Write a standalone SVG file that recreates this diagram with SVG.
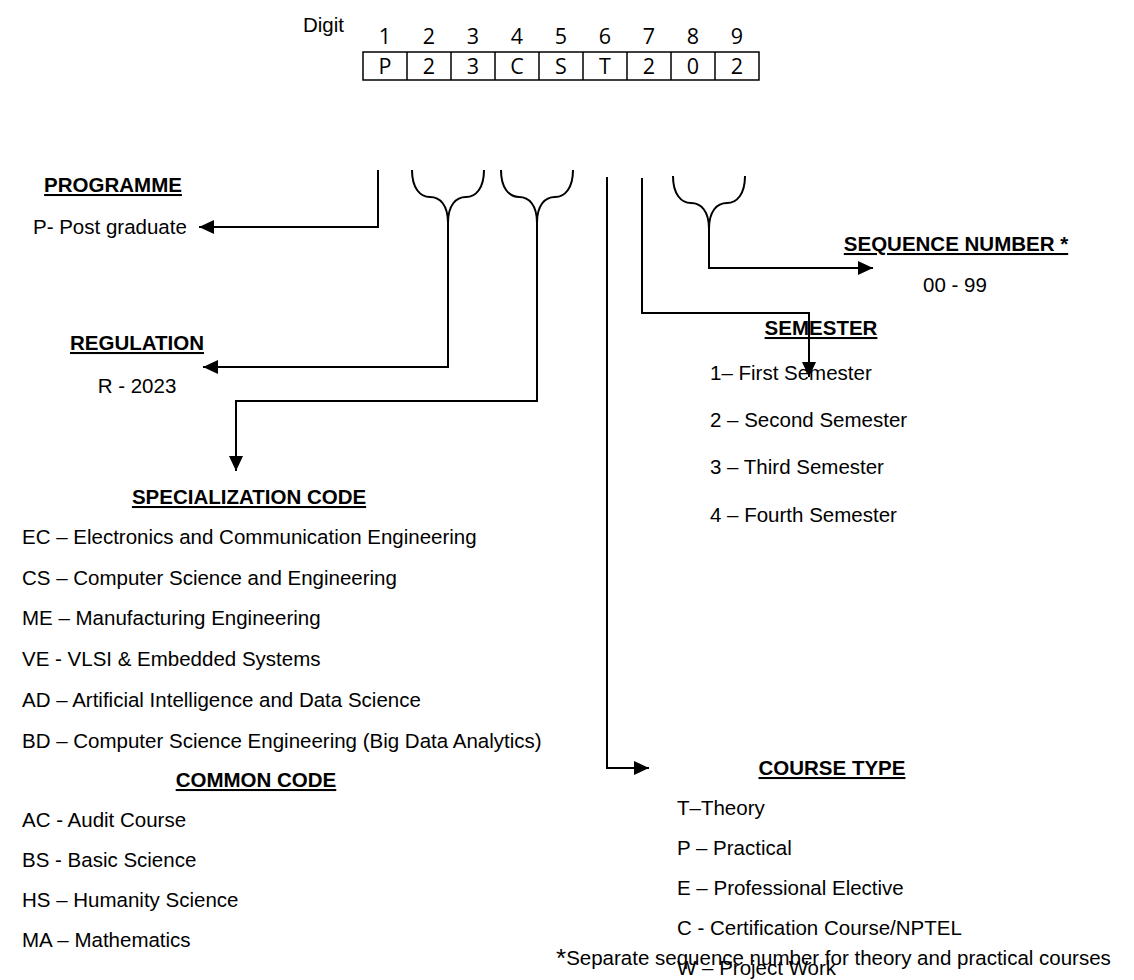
<svg xmlns="http://www.w3.org/2000/svg" width="1134" height="980" viewBox="0 0 1134 980">
<defs>
<style>
.t{font-family:"Liberation Sans",Arial,sans-serif;font-size:20.5px;fill:#000}
.h{font-family:"Liberation Sans",Arial,sans-serif;font-size:20.5px;font-weight:bold;fill:#000;text-decoration:underline;text-anchor:middle}
.c{font-family:"Open Sans","Noto Sans",sans-serif;font-size:21.5px;fill:#000;text-anchor:middle}
.ln{fill:none;stroke:#000;stroke-width:2}
.cell{fill:none;stroke:#000;stroke-width:1.5}
</style>
<marker id="ah" markerUnits="userSpaceOnUse" markerWidth="16" markerHeight="14" refX="15" refY="7" orient="auto">
<path d="M0,0 L15,7 L0,14 Z" fill="#000"/>
</marker>
</defs>
<rect width="1134" height="980" fill="#fff"/>

<g id="code-table">
<text class="t" x="303" y="32">Digit</text>
<text class="c" x="385" y="44">1</text>
<text class="c" x="429" y="44">2</text>
<text class="c" x="473" y="44">3</text>
<text class="c" x="517" y="44">4</text>
<text class="c" x="561" y="44">5</text>
<text class="c" x="605" y="44">6</text>
<text class="c" x="649" y="44">7</text>
<text class="c" x="693" y="44">8</text>
<text class="c" x="737" y="44">9</text>
<rect class="cell" x="363" y="52" width="396" height="28"/>
<line class="cell" x1="407" y1="52" x2="407" y2="80"/>
<line class="cell" x1="451" y1="52" x2="451" y2="80"/>
<line class="cell" x1="495" y1="52" x2="495" y2="80"/>
<line class="cell" x1="539" y1="52" x2="539" y2="80"/>
<line class="cell" x1="583" y1="52" x2="583" y2="80"/>
<line class="cell" x1="627" y1="52" x2="627" y2="80"/>
<line class="cell" x1="671" y1="52" x2="671" y2="80"/>
<line class="cell" x1="715" y1="52" x2="715" y2="80"/>
<text class="c" x="385" y="74">P</text>
<text class="c" x="429" y="74">2</text>
<text class="c" x="473" y="74">3</text>
<text class="c" x="517" y="74">C</text>
<text class="c" x="561" y="74">S</text>
<text class="c" x="605" y="74">T</text>
<text class="c" x="649" y="74">2</text>
<text class="c" x="693" y="74">0</text>
<text class="c" x="737" y="74">2</text>
</g>

<g id="connectors">
<path class="ln" d="M378,170 V227 H199" marker-end="url(#ah)"/>
<path class="ln" d="M412,170 C412,188 420,197 430,197 C440,197 448,205 448,223 M484,170 C484,188 476,197 466,197 C456,197 448,205 448,223"/>
<path class="ln" d="M448,222 V367 H203" marker-end="url(#ah)"/>
<path class="ln" d="M501,170 C501,188 509,197 519,197 C529,197 537,205 537,223 M573,170 C573,188 565,197 555,197 C545,197 537,205 537,223"/>
<path class="ln" d="M537,222 V401 H236 V471" marker-end="url(#ah)"/>
<path class="ln" d="M607,177 V768 H649" marker-end="url(#ah)"/>
<path class="ln" d="M642,178 V313 H809 V377" marker-end="url(#ah)"/>
<path class="ln" d="M673,176 C673,194 681,203 691,203 C701,203 709,211 709,229 M745,176 C745,194 737,203 727,203 C717,203 709,211 709,229"/>
<path class="ln" d="M709,228 V268 H873" marker-end="url(#ah)"/>
</g>

<g id="programme">
<text class="h" x="113" y="192">PROGRAMME</text>
<text class="t" x="33" y="234">P- Post graduate</text>
</g>

<g id="regulation">
<text class="h" x="137" y="350">REGULATION</text>
<text class="t" x="137" y="393" text-anchor="middle">R - 2023</text>
</g>

<g id="specialization">
<text class="h" x="249" y="504">SPECIALIZATION CODE</text>
<text class="t" x="22" y="544">EC – Electronics and Communication Engineering</text>
<text class="t" x="22" y="585">CS – Computer Science and Engineering</text>
<text class="t" x="22" y="625">ME – Manufacturing Engineering</text>
<text class="t" x="22" y="666">VE - VLSI &amp; Embedded Systems</text>
<text class="t" x="22" y="707">AD – Artificial Intelligence and Data Science</text>
<text class="t" x="22" y="748">BD – Computer Science Engineering (Big Data Analytics)</text>
</g>

<g id="common-code">
<text class="h" x="256" y="787">COMMON CODE</text>
<text class="t" x="22" y="827">AC - Audit Course</text>
<text class="t" x="22" y="867">BS - Basic Science</text>
<text class="t" x="22" y="907">HS – Humanity Science</text>
<text class="t" x="22" y="947">MA – Mathematics</text>
</g>

<g id="sequence">
<text class="h" x="956" y="251">SEQUENCE NUMBER *</text>
<text class="t" x="955" y="292" text-anchor="middle">00 - 99</text>
</g>

<g id="semester">
<text class="h" x="821" y="335">SEMESTER</text>
<text class="t" x="710" y="380">1– First Semester</text>
<text class="t" x="710" y="427">2 – Second Semester</text>
<text class="t" x="710" y="474">3 – Third Semester</text>
<text class="t" x="710" y="522">4 – Fourth Semester</text>
</g>

<g id="course-type">
<text class="h" x="832" y="775">COURSE TYPE</text>
<text class="t" x="677" y="815">T–Theory</text>
<text class="t" x="677" y="855">P – Practical</text>
<text class="t" x="677" y="895">E – Professional Elective</text>
<text class="t" x="677" y="935">C - Certification Course/NPTEL</text>
<text class="t" x="677" y="975">W – Project Work</text>
</g>

<g id="footnote">
<text class="t" x="556" y="965" font-size="21"><tspan font-size="26" dy="2">*</tspan><tspan dy="-2">Separate sequence number for theory and practical courses</tspan></text>
</g>
</svg>
